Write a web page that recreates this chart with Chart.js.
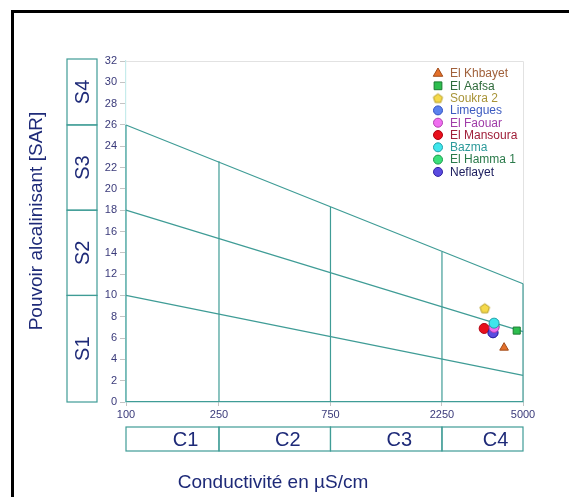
<!DOCTYPE html>
<html>
<head>
<meta charset="utf-8">
<script src="https://cdn.jsdelivr.net/npm/chart.js@4.4.1/dist/chart.umd.min.js"></script>
<style>
  body { margin: 0; background: #fff; width: 569px; height: 497px; overflow: hidden; position: relative; }
  #frame { position: absolute; left: 11px; top: 10px; width: 600px; height: 520px; border: 3px solid #000; box-sizing: border-box; }
  #chart { position: absolute; left: 0; top: 0; }
</style>
</head>
<body>
<div id="frame"></div>
<canvas id="chart" width="569" height="497"></canvas>
<script>
// axis ticks and classes
const condTicks = [100, 250, 750, 2250, 5000];
const classC = ['C1', 'C2', 'C3', 'C4'];
const classS = ['S1', 'S2', 'S3', 'S4'];
const sBounds = [0, 10, 18, 26, 32];

// class limits (SAR at 100 and at 5000 µS/cm)
const limitStart = [10, 18, 26];
const limitEnd = [2.5, 6.6, 11.1];
// tops of the vertical separators at 250, 750, 2250
const dividerTop = [22.6, 18.3, 14.1];

// stations
const stations = ['El Khbayet', 'El Aafsa', 'Soukra 2', 'Limegues', 'El Faouar', 'El Mansoura', 'Bazma', 'El Hamma 1', 'Neflayet'];
const ec = [4150, 4700, 3430, 3720, 3760, 3410, 3760, 3760, 3720];
const sar = [5.1, 6.7, 8.8, 6.5, 7.0, 6.9, 7.4, 7.1, 6.5];

// marker styles
const fills = ['#e3702a', '#2dbe4e', '#f5d94a', '#5b82ee', '#f06ef0', '#e8101c', '#3fe6ec', '#3be07a', '#5a4be0'];
const borders = ['#a04a18', '#1a7a30', '#b39a20', '#3050c0', '#b040b0', '#b00010', '#20a0a8', '#1a9a4a', '#3020a0'];
const textColors = ['#a0603a', '#2f6b3b', '#a89438', '#3c5bc0', '#a03ca8', '#a0203a', '#2c9a9a', '#2a7a4a', '#1f2060'];
const drawOrder = [9, 8, 7, 6, 2, 4, 1, 5, 3];

const teal = '#3f9c96';
const navy = '#1e2a78';
const font = "'Liberation Sans', Arial, sans-serif";

function pentagon(fill, stroke, r) {
    const c = document.createElement('canvas');
    const s = Math.ceil(2 * r + 3);
    c.width = c.height = s;
    const g = c.getContext('2d');
    g.beginPath();
    for (let k = 0; k < 5; k++) {
        const a = -Math.PI / 2 + k * 2 * Math.PI / 5;
        const px = s / 2 + r * Math.cos(a), py = s / 2 + 0.5 + r * Math.sin(a);
        k ? g.lineTo(px, py) : g.moveTo(px, py);
    }
    g.closePath();
    g.fillStyle = fill; g.fill();
    g.strokeStyle = stroke; g.lineWidth = 1; g.stroke();
    return c;
}

const styles = ['triangle', 'rect', pentagon(fills[2], borders[2], 5), 'circle', 'circle', 'circle', 'circle', 'circle', 'circle'];
const legendStyles = ['triangle', 'rect', pentagon(fills[2], borders[2], 4.8), 'circle', 'circle', 'circle', 'circle', 'circle', 'circle'];
const legendRadius = [5.5, 5.5, 4.5, 4.5, 4.5, 4.5, 4.5, 4.5, 4.5];

function segment(x0, y0, x1, y1) {
    return {
        data: [{ x: x0, y: y0 }, { x: x1, y: y1 }],
        showLine: true, borderColor: teal, borderWidth: 1.2,
        pointRadius: 0, fill: false, clip: false, order: 50
    };
}

const datasets = [];
stations.forEach((name, i) => {
    datasets.push({
        label: name,
        data: [{ x: ec[i], y: sar[i] }],
        pointStyle: styles[i],
        pointRadius: 5,
        backgroundColor: fills[i],
        borderColor: borders[i],
        borderWidth: 1,
        order: drawOrder[i]
    });
});
limitStart.forEach((v, i) => datasets.push(segment(condTicks[0], v, condTicks[4], limitEnd[i])));
dividerTop.forEach((v, i) => datasets.push(segment(condTicks[i + 1], 0, condTicks[i + 1], v)));
datasets.push(segment(condTicks[0], 0, condTicks[0], limitStart[2]));
datasets.push(segment(condTicks[4], 0, condTicks[4], limitEnd[2]));

const overlay = {
    id: 'overlay',
    beforeDatasetsDraw(chart) {
        const { ctx, chartArea: a } = chart;
        ctx.save();
        ctx.strokeStyle = '#e2e2e2';
        ctx.lineWidth = 1;
        ctx.beginPath();
        ctx.moveTo(a.left, a.top + 0.5);
        ctx.lineTo(a.right + 0.5, a.top + 0.5);
        ctx.lineTo(a.right + 0.5, a.bottom);
        ctx.stroke();
        ctx.restore();
    },
    afterDraw(chart) {
        const ctx = chart.ctx, xs = chart.scales.x, ys = chart.scales.y;
        ctx.save();
        ctx.strokeStyle = teal;
        ctx.lineWidth = 1.2;
        ctx.fillStyle = navy;
        ctx.textAlign = 'center';
        ctx.textBaseline = 'middle';

        // S boxes
        ctx.font = '20px ' + font;
        classS.forEach((s, i) => {
            let top = ys.getPixelForValue(sBounds[i + 1]);
            const bot = ys.getPixelForValue(sBounds[i]);
            if (i === classS.length - 1) top -= 2;
            ctx.strokeRect(67, top, 30, bot - top);
            ctx.save();
            ctx.translate(82, (top + bot) / 2);
            ctx.rotate(-Math.PI / 2);
            ctx.fillText(s, 0, 1);
            ctx.restore();
        });

        // C boxes
        classC.forEach((c, i) => {
            const l = xs.getPixelForValue(condTicks[i]), r = xs.getPixelForValue(condTicks[i + 1]);
            ctx.strokeRect(l, 427, r - l, 24);
            ctx.fillText(c, (l + r) / 2 + 13, 440);
        });

        // axis titles
        ctx.font = '19px ' + font;
        ctx.fillText('Conductivité en µS/cm', 273, 483);
        ctx.save();
        ctx.translate(37, 221);
        ctx.rotate(-Math.PI / 2);
        ctx.fillText('Pouvoir alcalinisant [SAR]', 0, 0);
        ctx.restore();

        // legend
        ctx.font = '12px ' + font;
        ctx.textAlign = 'left';
        stations.forEach((name, i) => {
            const y = 73.5 + i * 12.3;
            ctx.fillStyle = fills[i];
            ctx.strokeStyle = borders[i];
            ctx.lineWidth = 1;
            if (Chart.helpers && Chart.helpers.drawPoint) {
                Chart.helpers.drawPoint(ctx, { pointStyle: legendStyles[i], radius: legendRadius[i], borderWidth: 1, rotation: 0 }, 438, y);
            } else {
                ctx.beginPath(); ctx.arc(438, y, 4.5, 0, 2 * Math.PI); ctx.fill(); ctx.stroke();
            }
            ctx.fillStyle = textColors[i];
            ctx.fillText(name, 450, y + 0.5);
        });
        ctx.restore();
    }
};

new Chart(document.getElementById('chart'), {
    type: 'scatter',
    data: { datasets: datasets },
    options: {
        responsive: false,
        animation: false,
        layout: { padding: { top: 61, right: 46, left: 0, bottom: 0 } },
        plugins: { legend: { display: false }, tooltip: { enabled: false } },
        scales: {
            x: {
                type: 'logarithmic',
                min: 100, max: 5000,
                afterBuildTicks: (s) => { s.ticks = condTicks.map(v => ({ value: v })); },
                afterFit: (s) => { s.height = 95; },
                ticks: {
                    autoSkip: false, maxRotation: 0, padding: 2,
                    color: '#3a3a7a', font: { family: font, size: 11 },
                    callback: (v) => String(v)
                },
                grid: { drawOnChartArea: false, drawTicks: true, tickLength: 4, color: '#c4c4c4' },
                border: { display: true, color: teal, width: 1.2 }
            },
            y: {
                min: 0, max: 32,
                afterFit: (s) => { s.width = 126; },
                ticks: {
                    stepSize: 2, padding: 3,
                    color: '#3a3a7a', font: { family: font, size: 11 }
                },
                grid: { drawOnChartArea: false, drawTicks: true, tickLength: 6, color: '#c4c4c4' },
                border: { display: true, color: '#c6ecec', width: 1.2 }
            }
        }
    },
    plugins: [overlay]
});
</script>
</body>
</html>
